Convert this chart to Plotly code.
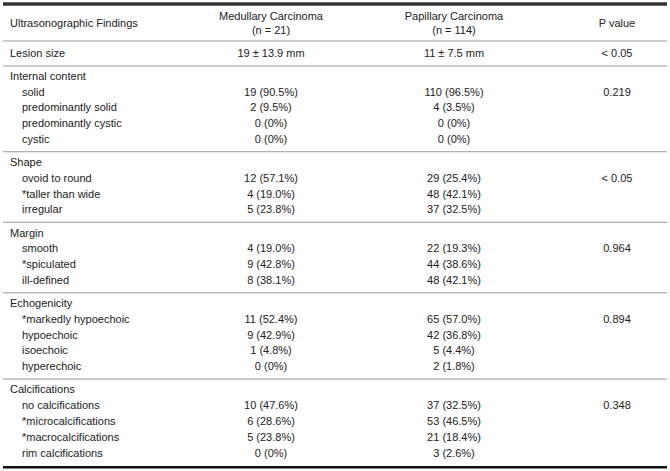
import plotly.graph_objects as go

# ---------------- data ----------------
header_labels = ["Ultrasonographic Findings", "Medullary Carcinoma<br>(n = 21)",
                 "Papillary Carcinoma<br>(n = 114)", "P value"]
lesion_label = "Lesion size"
lesion_values = ["19 \u00b1 13.9 mm", "11 \u00b1 7.5 mm", "< 0.05"]

groups = ["Internal content", "Shape", "Margin", "Echogenicity", "Calcifications"]
group_items = [
    ["solid", "predominantly solid", "predominantly cystic", "cystic"],
    ["ovoid to round", "*taller than wide", "irregular"],
    ["smooth", "*spiculated", "ill-defined"],
    ["*markedly hypoechoic", "hypoechoic", "isoechoic", "hyperechoic"],
    ["no calcifications", "*microcalcifications", "*macrocalcifications", "rim calcifications"],
]
medullary = [
    ["19 (90.5%)", "2 (9.5%)", "0 (0%)", "0 (0%)"],
    ["12 (57.1%)", "4 (19.0%)", "5 (23.8%)"],
    ["4 (19.0%)", "9 (42.8%)", "8 (38.1%)"],
    ["11 (52.4%)", "9 (42.9%)", "1 (4.8%)", "0 (0%)"],
    ["10 (47.6%)", "6 (28.6%)", "5 (23.8%)", "0 (0%)"],
]
papillary = [
    ["110 (96.5%)", "4 (3.5%)", "0 (0%)", "0 (0%)"],
    ["29 (25.4%)", "48 (42.1%)", "37 (32.5%)"],
    ["22 (19.3%)", "44 (38.6%)", "48 (42.1%)"],
    ["65 (57.0%)", "42 (36.8%)", "5 (4.4%)", "2 (1.8%)"],
    ["37 (32.5%)", "53 (46.5%)", "21 (18.4%)", "3 (2.6%)"],
]
p_values = ["0.219", "< 0.05", "0.964", "0.894", "0.348"]

# ---------------- layout geometry ----------------
W, H = 670, 471
X_LABEL, X_SUB, X_MED, X_PAP, X_P = 10, 22, 271, 454, 617
X_L, X_R = 3, 667
Y_TOP, Y_HEAD_LINE, Y_LESION, Y_LESION_LINE = 4, 41, 54, 66
Y_FIRST, PITCH, GAP = 77, 15.8, 7.3

TXT = "#222222"
FONT = "Liberation Sans, Arial, Helvetica, sans-serif"
FS = 11

left_x, left_y, left_t = [], [], []
cen_x, cen_y, cen_t = [], [], []
sep_lines = []

# header
left_x.append(X_LABEL); left_y.append(24); left_t.append(header_labels[0])
for xc, lab, yy in [(X_MED, header_labels[1], 24.5), (X_PAP, header_labels[2], 24.5), (X_P, header_labels[3], 24)]:
    cen_x.append(xc); cen_y.append(yy); cen_t.append(lab)

# lesion size row
left_x.append(X_LABEL); left_y.append(Y_LESION); left_t.append(lesion_label)
for xc, v in zip([X_MED, X_PAP, X_P], lesion_values):
    cen_x.append(xc); cen_y.append(Y_LESION); cen_t.append(v)

# groups
row = 0
sub_x, sub_y, sub_t = [], [], []
for gi, g in enumerate(groups):
    y = Y_FIRST + PITCH * row + GAP * gi
    left_x.append(X_LABEL); left_y.append(y); left_t.append(g)
    row += 1
    for ii, item in enumerate(group_items[gi]):
        y = Y_FIRST + PITCH * row + GAP * gi
        sub_x.append(X_SUB); sub_y.append(y); sub_t.append(item)
        cen_x.append(X_MED); cen_y.append(y); cen_t.append(medullary[gi][ii])
        cen_x.append(X_PAP); cen_y.append(y); cen_t.append(papillary[gi][ii])
        if ii == 0:
            cen_x.append(X_P); cen_y.append(y); cen_t.append(p_values[gi])
        row += 1
    last_y = Y_FIRST + PITCH * (row - 1) + GAP * gi
    sep_lines.append(last_y + (PITCH + GAP) / 2)

fig = go.Figure()

def rule(y, color, width):
    fig.add_trace(go.Scatter(x=[X_L, X_R], y=[y, y], mode="lines",
                             line=dict(color=color, width=width),
                             hoverinfo="skip", showlegend=False))

rule(Y_TOP, "#333333", 3)
for yl in [Y_HEAD_LINE, Y_LESION_LINE] + sep_lines[:-1]:
    rule(yl, "#9a9a9a", 1)
rule(sep_lines[-1] + 2, "#111111", 2.5)

fig.add_trace(go.Scatter(x=left_x + sub_x, y=left_y + sub_y, text=left_t + sub_t,
                         mode="text", textposition="middle right",
                         textfont=dict(family=FONT, size=FS, color=TXT),
                         hoverinfo="skip", showlegend=False))
fig.add_trace(go.Scatter(x=cen_x, y=cen_y, text=cen_t,
                         mode="text", textposition="middle center",
                         textfont=dict(family=FONT, size=FS, color=TXT),
                         hoverinfo="skip", showlegend=False))

# top thick rule also as a filled band on the axes
top_band = dict(type="rect", xref="x", yref="y", x0=X_L, x1=X_R,
                y0=Y_TOP - 1.5, y1=Y_TOP + 1.5, layer="above",
                fillcolor="#333333", line=dict(width=0))

fig.update_layout(
    width=W, height=H, margin=dict(l=0, r=0, t=0, b=0),
    paper_bgcolor="white", plot_bgcolor="white",
    xaxis=dict(range=[0, W], visible=False, fixedrange=True),
    yaxis=dict(range=[H, 0], visible=False, fixedrange=True),
    shapes=[top_band],
)
fig.write_html("out.html", config={"displayModeBar": False},
               post_script="document.body.style.margin='0';document.body.style.overflow='hidden';")
